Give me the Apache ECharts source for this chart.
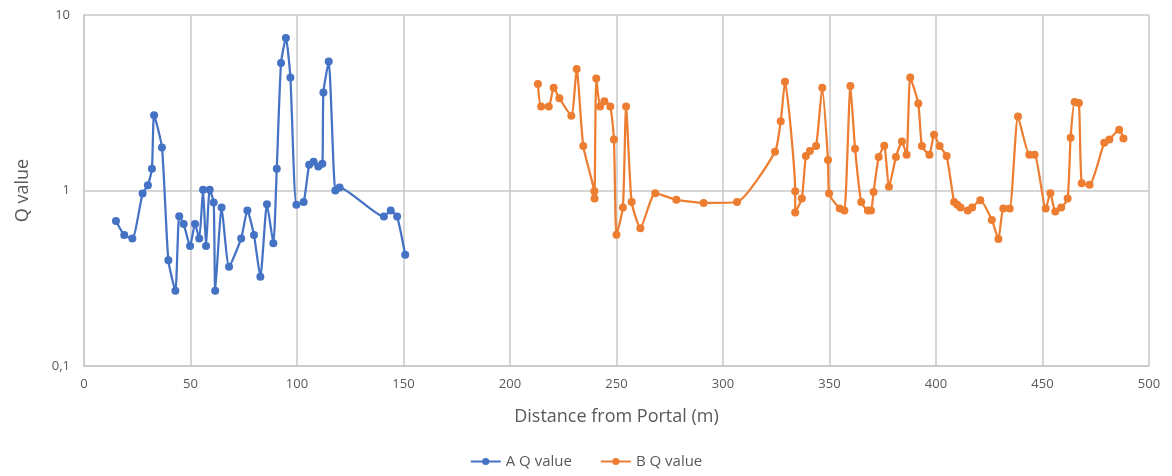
<!DOCTYPE html>
<html>
<head>
<meta charset="utf-8">
<script src="https://cdn.jsdelivr.net/npm/echarts@6/dist/echarts.min.js"></script>
<style>
  html, body { margin: 0; padding: 0; background: #fff; }
  #chart { width: 1172px; height: 476px; }
</style>
</head>
<body>
<div id="chart"></div>
<script>
// A series: distance (m) and Q value
const aDist = [15, 18.9, 22.7, 27.5, 30, 31.9, 32.9, 36.6, 39.6, 42.9, 44.7, 46.8, 49.8, 52.1, 54.1, 55.9,
  57.3, 59, 60.9, 61.6, 64.6, 68.1, 73.8, 76.7, 79.8, 82.8, 85.9, 88.9, 90.5, 92.5, 94.8, 96.9, 99.7,
  103.1, 105.7, 107.8, 110, 111.9, 112.4, 114.9, 118, 120, 140.8, 144, 147, 150.8];
const aQ = [0.67, 0.557, 0.533, 0.96, 1.07, 1.33, 2.68, 1.76, 0.40, 0.268, 0.714, 0.644, 0.483, 0.644, 0.533, 1.01,
  0.483, 1.01, 0.855, 0.268, 0.80, 0.368, 0.533, 0.77, 0.557, 0.322, 0.836, 0.50, 1.33, 5.33, 7.4, 4.4, 0.83,
  0.86, 1.40, 1.46, 1.37, 1.42, 3.62, 5.43, 1.0, 1.04, 0.71, 0.77, 0.71, 0.43];

// B series
const bDist = [213.1, 214.6, 218.2, 220.5, 223.2, 228.8, 231.3, 234.4, 239.6, 239.7, 240.5, 242.3, 244.3, 247.1,
  248.8, 250, 253, 254.5, 257.1, 261.2, 268.2, 278.1, 290.9, 306.6, 324.4, 327.1, 329.1, 333.9, 333.9, 337,
  338.9, 340.8, 343.7, 346.6, 349.3, 349.8, 354.8, 357, 359.8, 362, 364.9, 368, 369.5, 370.7, 373.1, 375.7,
  377.9, 381.2, 384, 386.2, 387.9, 391.7, 393.4, 396.9, 399.1, 401.7, 405, 408.5, 410, 411.5, 414.9, 417,
  420.8, 426.2, 429.3, 431.6, 434.6, 438.5, 443.8, 446.3, 451.5, 453.7, 456, 458.8, 461.8, 463.2, 465.1,
  467.1, 468.4, 472.1, 479, 481.4, 486, 488];
const bQ = [4.04, 3.01, 3.01, 3.85, 3.35, 2.67, 4.93, 1.79, 0.99, 0.90, 4.35, 3.01, 3.23, 3.01,
  1.95, 0.56, 0.80, 3.01, 0.86, 0.61, 0.965, 0.885, 0.85, 0.86, 1.66, 2.48, 4.16, 0.99, 0.75, 0.90,
  1.57, 1.68, 1.79, 3.85, 1.49, 0.96, 0.79, 0.77, 3.94, 1.73, 0.86, 0.77, 0.77, 0.98, 1.55, 1.80,
  1.05, 1.55, 1.90, 1.60, 4.40, 3.13, 1.79, 1.60, 2.08, 1.79, 1.57, 0.86, 0.83, 0.80, 0.77, 0.80,
  0.88, 0.68, 0.53, 0.79, 0.79, 2.64, 1.60, 1.60, 0.79, 0.965, 0.76, 0.80, 0.90, 2.0, 3.19,
  3.15, 1.10, 1.08, 1.87, 1.95, 2.22, 1.98];

const pairs = (xs, ys) => xs.map((x, i) => [x, ys[i]]);

const textColor = '#595959';
const gridColor = '#c8c8c8';
const font = '"Open Sans", "Noto Sans", sans-serif';

const chart = echarts.init(document.getElementById('chart'));
chart.setOption({
  backgroundColor: '#fff',
  animation: false,
  textStyle: { fontFamily: font },
  grid: { left: 84, right: 23, top: 15, bottom: 110, containLabel: false },
  legend: {
    bottom: 2,
    left: 'center',
    itemWidth: 30,
    itemHeight: 9,
    itemGap: 28,
    textStyle: { color: textColor, fontSize: 15, fontFamily: font },
    data: ['A Q value', 'B Q value']
  },
  xAxis: {
    type: 'value',
    min: 0,
    max: 500,
    interval: 50,
    name: 'Distance from Portal (m)',
    nameLocation: 'middle',
    nameGap: 42,
    nameTextStyle: { color: textColor, fontSize: 18 },
    axisLine: { show: true, lineStyle: { color: gridColor, width: 1.5 } },
    axisTick: { show: false },
    axisLabel: { color: textColor, fontSize: 13, margin: 12 },
    splitLine: { show: true, lineStyle: { color: gridColor, width: 1.5 } }
  },
  yAxis: {
    type: 'log',
    logBase: 10,
    min: 0.1,
    max: 10,
    name: 'Q value',
    nameLocation: 'middle',
    nameGap: 52,
    nameRotate: 90,
    nameTextStyle: { color: textColor, fontSize: 18 },
    axisLine: { show: true, lineStyle: { color: gridColor, width: 1.5 } },
    axisTick: { show: false },
    axisLabel: {
      color: textColor,
      fontSize: 13,
      margin: 14,
      formatter: v => String(v).replace('.', ',')
    },
    splitLine: { show: true, lineStyle: { color: gridColor, width: 1.5 } }
  },
  series: [
    {
      name: 'A Q value',
      type: 'line',
      smooth: 0.18,
      symbol: 'circle',
      symbolSize: 8,
      color: '#4472C4',
      lineStyle: { width: 2.25 },
      data: pairs(aDist, aQ)
    },
    {
      name: 'B Q value',
      type: 'line',
      smooth: 0.18,
      symbol: 'circle',
      symbolSize: 8,
      color: '#ED7D31',
      lineStyle: { width: 2.25 },
      data: pairs(bDist, bQ)
    }
  ]
});
</script>
</body>
</html>
